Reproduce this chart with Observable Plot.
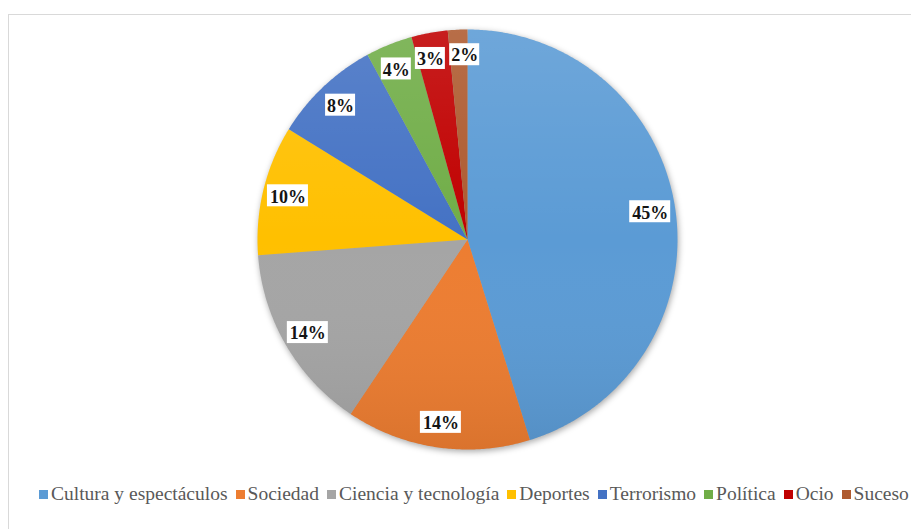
<!DOCTYPE html>
<html>
<head>
<meta charset="utf-8">
<script src="https://cdn.jsdelivr.net/npm/d3@7"></script>
<script src="https://cdn.jsdelivr.net/npm/@observablehq/plot@0.6"></script>
<style>
  html, body { margin: 0; padding: 0; background: #fff; width: 911px; height: 529px; overflow: hidden; }
  #frame { position: absolute; left: 8px; top: 14px; width: 1000px; height: 600px; border: 1px solid #d9d9d9; box-sizing: border-box; }
  #chart { position: absolute; left: 0; top: 0; }
  #legend { position: absolute; left: 39px; top: 484px; white-space: nowrap; font-family: 'Liberation Serif', serif; font-size: 19.5px; line-height: 20px; color: #595959; }
  #legend .item { display: inline-block; margin-right: 8px; }
  #legend .item:last-child { margin-right: 0; }
  #legend .sw { display: inline-block; width: 9px; height: 9px; margin-right: 3px; vertical-align: 1px; }
</style>
</head>
<body>
<div id="frame"></div>
<svg width="0" height="0" style="position:absolute">
  <defs>
    <linearGradient id="shade" gradientUnits="userSpaceOnUse" x1="0" y1="29" x2="0" y2="449">
      <stop offset="0" stop-color="#ffffff" stop-opacity="0.12"></stop>
      <stop offset="0.5" stop-color="#ffffff" stop-opacity="0"></stop>
      <stop offset="1" stop-color="#000000" stop-opacity="0.08"></stop>
    </linearGradient>
  </defs>
</svg>
<div id="chart"></div>
<div id="legend"></div>
<script>
const categories = ["Cultura y espectáculos", "Sociedad", "Ciencia y tecnología", "Deportes", "Terrorismo", "Política", "Ocio", "Suceso"];
const values = [45.2, 14.2, 14.4, 10.0, 8.3, 3.6, 2.8, 1.5];
const colors = ["#5B9BD5", "#ED7D31", "#A5A5A5", "#FFC000", "#4472C4", "#70AD47", "#C00000", "#AE5A2F"];

const arcs = d3.pie().sort(null).value(d => d.value)(categories.map((name, i) => ({name, value: values[i]})));

// Slice polygons on the unit circle (angle clockwise from 12 o'clock)
const slicePts = [];
arcs.forEach(a => {
  const n = Math.max(4, Math.ceil((a.endAngle - a.startAngle) / (Math.PI / 360)));
  slicePts.push({name: a.data.name, x: 0, y: 0});
  for (let k = 0; k <= n; k++) {
    const t = a.startAngle + (a.endAngle - a.startAngle) * k / n;
    slicePts.push({name: a.data.name, x: Math.sin(t), y: Math.cos(t)});
  }
  slicePts.push({name: a.data.name, x: 0, y: 0});
});

// Labels at mid-angle, nudged apart along the arc when boxes would overlap
const RPX = 210, labelR = 0.88;
const texts = arcs.map(a => Math.round(a.data.value) + "%");
const halfW = texts.map(t => t.length >= 3 ? 20.5 : 15);
const ang = arcs.map(a => (a.startAngle + a.endAngle) / 2);
for (let iter = 0; iter < 400; iter++) {
  let moved = false;
  for (let i = 0; i < ang.length - 1; i++) {
    const j = i + 1;
    const dx = labelR * RPX * (Math.sin(ang[j]) - Math.sin(ang[i]));
    const dy = labelR * RPX * (Math.cos(ang[j]) - Math.cos(ang[i]));
    if (Math.abs(dx) < halfW[i] + halfW[j] + 4 && Math.abs(dy) < 24) {
      ang[i] -= 0.002; ang[j] += 0.002; moved = true;
    }
  }
  if (!moved) break;
}
const labels = arcs.map((a, i) => ({name: a.data.name, x: labelR * Math.sin(ang[i]), y: labelR * Math.cos(ang[i]), text: texts[i]}));

const chart = Plot.plot({
  width: 911,
  height: 470,
  marginLeft: 257,
  marginRight: 234,
  marginTop: 29,
  marginBottom: 21,
  x: {domain: [-1, 1], axis: null},
  y: {domain: [-1, 1], axis: null},
  color: {domain: categories, range: colors},
  style: {background: "transparent", overflow: "visible"},
  marks: [
    Plot.line(slicePts, {x: "x", y: "y", z: "name", fill: "name", stroke: "none", curve: "linear"}),
    Plot.line(slicePts, {x: "x", y: "y", z: "name", fill: "url(#shade)", stroke: "none", curve: "linear"}),
    Plot.rect(labels.filter(d => d.text.length >= 3), {x1: "x", x2: "x", y1: "y", y2: "y", fill: "white", insetLeft: -20.5, insetRight: -20.5, insetTop: -11, insetBottom: -11}),
    Plot.rect(labels.filter(d => d.text.length < 3), {x1: "x", x2: "x", y1: "y", y2: "y", fill: "white", insetLeft: -15, insetRight: -15, insetTop: -11, insetBottom: -11}),
    Plot.text(labels, {x: "x", y: "y", text: "text", fill: "#141414", fontSize: 18, fontWeight: "bold", fontFamily: "'Liberation Serif', serif", dy: 1})
  ]
});
document.getElementById("chart").appendChild(chart);
const pieG = chart.querySelector('g[aria-label="line"]');
if (pieG) pieG.setAttribute("style", "filter: drop-shadow(1px 2px 3px rgba(0,0,0,0.35))");

const legend = document.getElementById("legend");
categories.forEach((c, i) => {
  const it = document.createElement("span");
  it.className = "item";
  it.innerHTML = `<span class="sw" style="background:${colors[i]}"></span>${c}`;
  legend.appendChild(it);
});
</script>
</body>
</html>
